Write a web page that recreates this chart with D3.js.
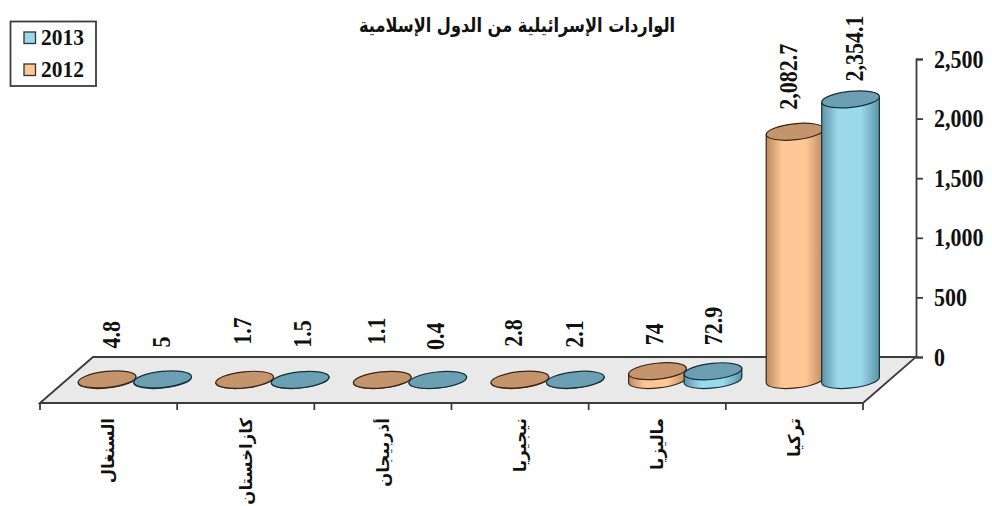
<!DOCTYPE html>
<html lang="ar">
<head>
<meta charset="utf-8">
<script src="https://cdnjs.cloudflare.com/ajax/libs/d3/7.8.5/d3.min.js"></script>
<style>
html,body{margin:0;padding:0;background:#fff}
svg{display:block}
.num{font-family:"Liberation Serif","Times New Roman",serif;font-weight:700;fill:#111}
.ar{font-family:"DejaVu Sans",sans-serif;font-weight:700;fill:#111}
</style>
</head>
<body>
<svg id="chart" width="992" height="506"></svg>
<script>
// Chart content
const titleText = "الواردات الإسرائيلية من الدول الإسلامية";
const categories = ["السنغال", "كازاخستان", "أذربيجان", "نيجيريا", "ماليزيا", "تركيا"];
const seriesNames = ["2012", "2013"];
const values2012 = [4.8, 1.7, 1.1, 2.8, 74, 2082.7];
const values2013 = [5, 1.5, 0.4, 2.1, 72.9, 2354.1];
const valueLabels2012 = ["4.8", "1.7", "1.1", "2.8", "74", "2,082.7"];
const valueLabels2013 = ["5", "1.5", "0.4", "2.1", "72.9", "2,354.1"];
const yTicks = [0, 500, 1000, 1500, 2000, 2500];

// Slanted-floor projection of the 3D plot box
const floor = {left: 40, right: 863, front: 403, back: 357, depthX: 53};
const baseDrop = 23;      // floor centre line sits this far below the value-axis zero
const radiusX = 29, radiusY = 8, tiltDeg = 6;

const svg = d3.select("#chart");
const x0 = d3.scaleBand().domain(categories).range([floor.left, floor.right]);
// Columns stand mid-depth on the floor, so they get their own slightly wider band
const xColumn = d3.scaleBand().domain(categories).range([66, 891.6]);
const x1 = d3.scaleBand().domain(seriesNames).range([-55.5, 55.5]);
const y = d3.scaleLinear().domain([0, 2500]).range([floor.back, 59]);

const palette = {
  "2012": {edge: "#bd8a62", mid: "#fec896", top: "#c4946c", line: "#3d2413"},
  "2013": {edge: "#5f93a6", mid: "#9ad8ec", top: "#6c9fb1", line: "#12323f"}
};

// Cylinder side shading
const defs = svg.append("defs");
seriesNames.forEach(s => {
  const g = defs.append("linearGradient").attr("id", "side" + s);
  [[0, palette[s].edge], [0.28, palette[s].mid], [0.68, palette[s].mid], [1, palette[s].edge]]
    .forEach(([o, c]) => g.append("stop").attr("offset", o).attr("stop-color", c));
});

// Floor
const fl = floor;
svg.append("path")
  .attr("d", `M${fl.left},${fl.front}L${fl.left + fl.depthX},${fl.back}H${fl.right + fl.depthX}L${fl.right},${fl.front}Z`)
  .attr("fill", "#e9e9e9").attr("stroke", "#3c3c3c").attr("stroke-width", 1.8);

// Category boundary ticks along the front edge of the floor
const tickXs = categories.map(c => x0(c)).concat(fl.right);
svg.append("g").selectAll("line").data(tickXs).join("line")
  .attr("x1", d => d).attr("x2", d => d)
  .attr("y1", fl.front).attr("y2", fl.front + 7)
  .attr("stroke", "#3c3c3c").attr("stroke-width", 1.8);

// Value axis on the right wall
const yAxis = d3.axisRight(y).tickValues(yTicks).tickFormat(d3.format(",")).tickSize(7).tickPadding(11);
const axisG = svg.append("g").attr("transform", `translate(${fl.right + fl.depthX},0)`).call(yAxis);
axisG.selectAll("path,line").attr("stroke", "#3c3c3c").attr("stroke-width", 1.8);
axisG.selectAll("text").attr("class", "num").attr("font-size", 22).attr("fill", "#111")
  .attr("transform", "scale(1,1.14)");

// Cylinders
const tilt = tiltDeg * Math.PI / 180;
const ex = radiusX * Math.cos(tilt), ey = radiusX * Math.sin(tilt);
const arc = sweep => `A${radiusX},${radiusY} ${-tiltDeg} 0 ${sweep} `;
const centre = (cat, s) => xColumn(cat) + xColumn.bandwidth() / 2 + x1(s) + x1.bandwidth() / 2;

const series = [
  {name: "2012", values: values2012},
  {name: "2013", values: values2013}
];
categories.forEach((cat, i) => {
  series.forEach(s => {
    const cx = centre(cat, s.name);
    const yTop = y(s.values[i]) + baseDrop, yBase = y(0) + baseDrop;
    const col = palette[s.name];
    const g = svg.append("g");
    g.append("path")
      .attr("d", `M${cx - ex},${yTop + ey}L${cx - ex},${yBase + ey}${arc(0)}${cx + ex},${yBase - ey}L${cx + ex},${yTop - ey}Z`)
      .attr("fill", `url(#side${s.name})`).attr("stroke", col.line).attr("stroke-width", 1.2);
    g.append("ellipse")
      .attr("cx", cx).attr("cy", yTop).attr("rx", radiusX).attr("ry", radiusY)
      .attr("transform", `rotate(${-tiltDeg} ${cx} ${yTop})`)
      .attr("fill", col.top).attr("stroke", col.line).attr("stroke-width", 1.2);
  });
});

// Value labels, hand-placed along the top of each column
const nudge2012 = [[5, -31], [-2, -35], [-6, -35], [-6, -33], [-3, -26], [-6, -22]];
const nudge2013 = [[-1, -32], [2, -32], [-2, -30], [-1, -32], [1, -26], [4, -18]];
[[values2012, valueLabels2012, nudge2012, "2012"], [values2013, valueLabels2013, nudge2013, "2013"]]
  .forEach(([vals, labs, nudges, name]) => {
    categories.forEach((cat, i) => {
      const px = centre(cat, name) + nudges[i][0];
      const py = y(vals[i]) + baseDrop + nudges[i][1];
      svg.append("text").attr("class", "num").attr("font-size", 22)
        .attr("transform", `translate(${px},${py}) rotate(-90) scale(1,1.12)`)
        .attr("dy", "0.34em").text(labs[i]);
    });
  });

// Category labels, rotated to read along the vertical
categories.forEach(cat => {
  const px = x0(cat) + x0.bandwidth() / 2;
  svg.append("text").attr("class", "ar").attr("font-size", 16.5)
    .attr("transform", `translate(${px},418) rotate(-90)`)
    .attr("text-anchor", "end").attr("dy", "0.35em").text(cat);
});

// Title
svg.append("text").attr("class", "ar").attr("font-size", 16.2)
  .attr("transform", "translate(517,32) scale(1,1.2)")
  .attr("text-anchor", "middle").text(titleText);

// Legend
const legend = svg.append("g");
legend.append("rect").attr("x", 10.5).attr("y", 21.5).attr("width", 85.5).attr("height", 64.5)
  .attr("fill", "#fff").attr("stroke", "#3c3c3c").attr("stroke-width", 1.8);
[["2013", 32], ["2012", 64]].forEach(([name, ly]) => {
  legend.append("rect").attr("x", 24).attr("y", ly).attr("width", 11.5).attr("height", 11.5)
    .attr("fill", palette[name].mid).attr("stroke", "#333").attr("stroke-width", 1.3);
  legend.append("text").attr("class", "num").attr("font-size", 21.5)
    .attr("transform", `translate(41,${ly + 13}) scale(1,1.12)`).text(name);
});
</script>
</body>
</html>
